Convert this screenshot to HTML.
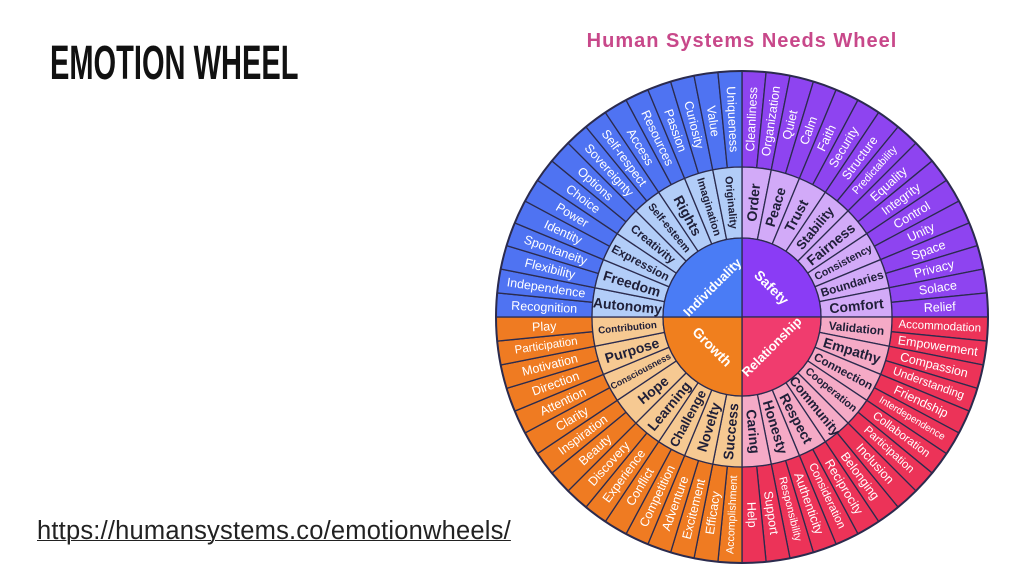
<!DOCTYPE html>
<html><head><meta charset="utf-8"><style>
html,body{margin:0;padding:0;background:#fff;width:1024px;height:576px;overflow:hidden;font-family:"Liberation Sans",sans-serif}
#t{position:absolute;left:50px;top:36px;font-size:48px;font-weight:bold;transform:scaleX(0.605);transform-origin:left top;color:#111}
#l{position:absolute;left:37px;top:517px;font-size:25.5px;color:#222;text-decoration:underline;text-decoration-thickness:1px;letter-spacing:0.2px}
svg{position:absolute;left:0;top:0}
</style></head><body>
<div id="t">EMOTION WHEEL</div>
<div id="l">https://humansystems.co/emotionwheels/</div>
<svg id="s" width="1024" height="576" xmlns="http://www.w3.org/2000/svg">
<text x="742" y="47" text-anchor="middle" font-family="Liberation Sans" font-weight="bold" font-size="20" fill="#c8488a" letter-spacing="1">Human Systems Needs Wheel</text>
</svg>
<script>
var cx=742,cy=317,R0=79,R1=150,R2=246,NS="http://www.w3.org/2000/svg",s=document.getElementById('s');
function P(r,t){t=t*Math.PI/180;return [cx+r*Math.sin(t),cy-r*Math.cos(t)];}
function seg(r1,r2,a,b,fill){var p1=P(r2,a),p2=P(r2,b),p3=P(r1,b),p4=P(r1,a);var d;
if(r1==0)d="M"+cx+","+cy+"L"+p1+"A"+r2+","+r2+" 0 0 1 "+p2+"Z";
else d="M"+p1+"A"+r2+","+r2+" 0 0 1 "+p2+"L"+p3+"A"+r1+","+r1+" 0 0 0 "+p4+"Z";
var e=document.createElementNS(NS,"path");e.setAttribute("d",d);e.setAttribute("fill",fill);e.setAttribute("stroke","#2b2b4e");e.setAttribute("stroke-width","1.3");s.appendChild(e);}
function txt(str,r,t,rot,size,fill,w){var p=P(r,t);var e=document.createElementNS(NS,"text");e.setAttribute("x",p[0]);e.setAttribute("y",p[1]);e.setAttribute("text-anchor","middle");e.setAttribute("dominant-baseline","central");e.setAttribute("font-size",size);e.setAttribute("fill",fill);e.setAttribute("font-family","Liberation Sans");if(w)e.setAttribute("font-weight",w);e.setAttribute("transform","rotate("+rot+" "+p[0]+" "+p[1]+")");e.textContent=str;s.appendChild(e);}
var Q=[
{a:0,core:"#8a3cf5",mid:"#d2aaf8",out:"#8e44f0",name:"Safety",crot:45,
 o:["Cleanliness","Organization","Quiet","Calm","Faith","Security","Structure","Predictability","Equality","Integrity","Control","Unity","Space","Privacy","Solace","Relief"],
 m:["Order","Peace","Trust","Stability","Fairness","Consistency","Boundaries","Comfort"]},
{a:90,core:"#f03c6e",mid:"#f5aac6",out:"#ec3358",name:"Relationship",crot:-45,
 o:["Accommodation","Empowerment","Compassion","Understanding","Friendship","Interdependence","Collaboration","Participation","Inclusion","Belonging","Reciprocity","Consideration","Authenticity","Responsibility","Support","Help"],
 m:["Validation","Empathy","Connection","Cooperation","Community","Respect","Honesty","Caring"]},
{a:180,core:"#f07f1e",mid:"#f6c992",out:"#ef7b22",name:"Growth",crot:45,
 o:["Play","Participation","Motivation","Direction","Attention","Clarity","Inspiration","Beauty","Discovery","Experience","Conflict","Competition","Adventure","Excitement","Efficacy","Accomplishment"].reverse(),
 m:["Contribution","Purpose","Consciousness","Hope","Learning","Challenge","Novelty","Success"].reverse()},
{a:270,core:"#4a7cf5",mid:"#b2cdf8",out:"#4f73f2",name:"Individuality",crot:-45,
 o:["Recognition","Independence","Flexibility","Spontaneity","Identity","Power","Choice","Options","Sovereignty","Self-respect","Access","Resources","Passion","Curiosity","Value","Uniqueness"],
 m:["Autonomy","Freedom","Expression","Creativity","Self-esteem","Rights","Imagination","Originality"]}];
Q.forEach(function(q){
 for(var i=0;i<16;i++)seg(R1,R2,q.a+i*90/16,q.a+(i+1)*90/16,q.out);
 for(var i=0;i<8;i++)seg(R0,R1,q.a+i*90/8,q.a+(i+1)*90/8,q.mid);
 seg(0,R0,q.a,q.a+90,q.core);
});
Q.forEach(function(q){
 for(var i=0;i<16;i++){var t=q.a+(i+.5)*90/16;var rot=t<180?t-90:t-270;var w=q.o[i];var sz=Math.min(12.5,150/w.length);txt(w,198,t,rot,sz,"#fff");}
 for(var i=0;i<8;i++){var t=q.a+(i+.5)*90/8;var rot=t<180?t-90:t-270;var w=q.m[i];var sz=Math.min(14,118/w.length);txt(w,115,t,rot,sz,"#1f1f38","bold");}
 txt(q.name,42,q.a+45,q.crot,q.name.length>8?13:14,"#fff","bold");
});
var c=document.createElementNS(NS,"circle");c.setAttribute("cx",cx);c.setAttribute("cy",cy);c.setAttribute("r",R2);c.setAttribute("fill","none");c.setAttribute("stroke","#2b2b4e");c.setAttribute("stroke-width","2");s.appendChild(c);
</script>
</body></html>
